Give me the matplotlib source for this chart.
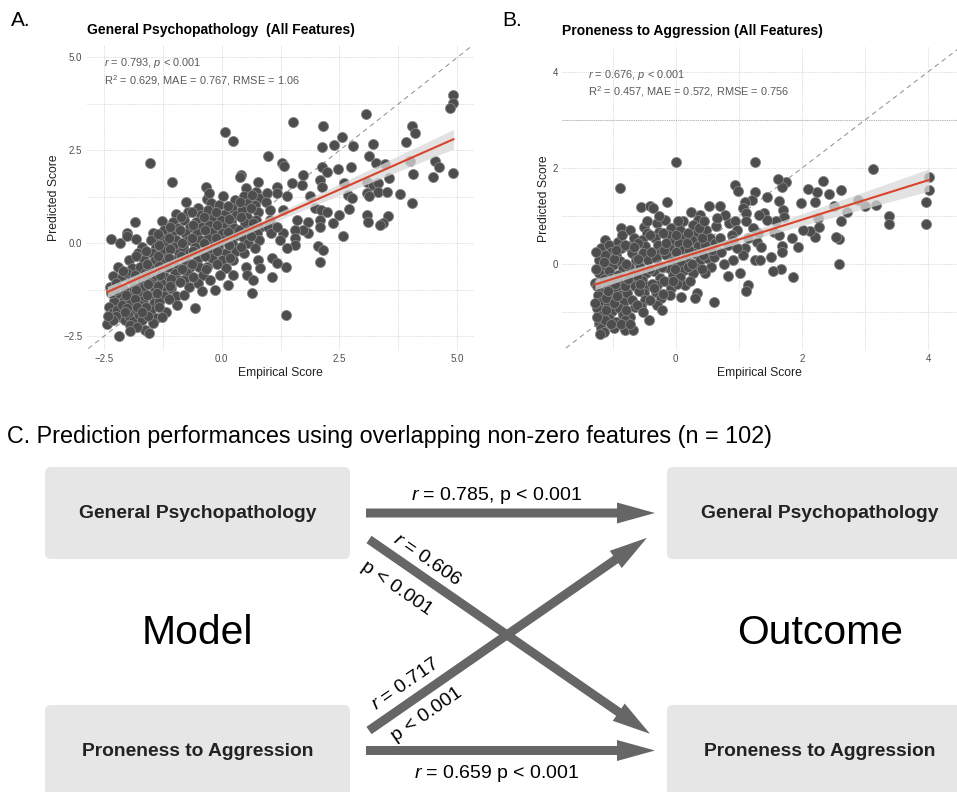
import numpy as np
import matplotlib.pyplot as plt
from matplotlib.patches import FancyBboxPatch, FancyArrow

plt.rcParams['font.family'] = ['Liberation Sans', 'DejaVu Sans']
plt.rcParams['mathtext.fontset'] = 'custom'
plt.rcParams['mathtext.rm'] = 'Liberation Sans'
plt.rcParams['mathtext.it'] = 'Liberation Sans:italic'

# ---- panel A: general psychopathology (empirical, predicted) ----
pts_a = [
    (-2.36, 0.12), (-2.30, -0.88), (-2.38, -1.17), (-2.28, -1.55), (-2.40, -1.70), (-2.33, -1.88), (-2.43, -2.17),
    (-2.15, 0.02), (-2.02, 0.27), (-2.02, 0.20), (-2.20, -0.63), (-2.12, -0.90), (-2.25, -1.08), (-2.17, -1.35),
    (-2.08, -1.52), (-2.22, -1.80), (-2.14, -1.97), (-2.05, -2.06), (-2.19, -2.49),
    (-1.84, 0.58), (-1.82, 0.11), (-1.97, -0.45), (-1.90, -0.67), (-2.00, -0.80), (-1.93, -1.00), (-1.86, -1.17),
    (-1.99, -1.30), (-1.91, -1.43), (-1.95, -1.60), (-1.87, -1.80), (-1.98, -1.93), (-1.89, -2.10), (-1.94, -2.20),
    (-1.70, -0.09), (-1.78, -0.27), (-1.66, -0.45), (-1.74, -0.63), (-1.62, -0.80), (-1.72, -0.99), (-1.65, -1.17),
    (-1.77, -1.35), (-1.68, -1.52), (-1.73, -1.66), (-1.63, -1.80), (-1.76, -1.93), (-1.69, -2.06), (-1.63, -2.33),
    (-1.54, -2.42),
    (-1.52, 2.15), (-1.45, 0.27), (-1.50, 0.09), (-1.40, -0.09), (-1.48, -0.27), (-1.42, -0.45), (-1.55, -0.63),
    (-1.38, -0.76), (-1.47, -0.94), (-1.53, -1.08), (-1.41, -1.26), (-1.49, -1.43), (-1.44, -1.60), (-1.51, -1.80),
    (-1.39, -2.00), (-1.46, -2.15),
    (-1.05, 1.66), (-1.27, 0.60), (-1.22, 0.36), (-1.30, 0.18), (-1.18, 0.00), (-1.26, -0.18), (-1.15, -0.36),
    (-1.24, -0.54), (-1.31, -0.72), (-1.20, -0.90), (-1.28, -1.08), (-1.16, -1.26), (-1.23, -1.43), (-1.33, -1.57),
    (-1.19, -1.84), (-1.26, -1.97),
    (-0.98, 0.80), (-1.03, 0.58), (-0.93, 0.40), (-1.06, 0.27), (-0.96, 0.09), (-1.01, -0.09), (-0.91, -0.27),
    (-1.04, -0.45), (-0.95, -0.63), (-1.00, -0.80), (-0.92, -0.99), (-1.07, -1.21), (-0.97, -1.43), (-0.94, -1.66),
    (-0.76, 1.10), (-0.72, 0.85), (-0.80, 0.63), (-0.68, 0.45), (-0.77, 0.27), (-0.71, 0.09), (-0.82, -0.09),
    (-0.70, -0.27), (-0.78, -0.45), (-0.67, -0.63), (-0.74, -0.80), (-0.81, -0.99), (-0.69, -1.17), (-0.79, -1.39),
    (-0.57, -1.75),
    (-0.33, 1.52), (-0.32, 1.18), (-0.50, 0.94), (-0.45, 0.76), (-0.55, 0.58), (-0.42, 0.45), (-0.52, 0.27),
    (-0.47, 0.09), (-0.56, -0.09), (-0.44, -0.27), (-0.53, -0.45), (-0.48, -0.63), (-0.40, -0.85), (-0.51, -1.08),
    (-0.42, -1.27),
    (-0.28, 1.35), (-0.22, 1.08), (-0.30, 0.90), (-0.19, 0.67), (-0.27, 0.49), (-0.21, 0.31), (-0.29, 0.13),
    (-0.17, -0.04), (-0.25, -0.22), (-0.20, -0.40), (-0.31, -0.63), (-0.24, -0.99), (-0.14, -1.26),
    (0.07, 3.00), (0.25, 2.76), (0.02, 1.26), (-0.05, 1.03), (0.06, 0.80), (-0.02, 0.63), (0.08, 0.45),
    (0.00, 0.27), (0.04, 0.09), (-0.07, -0.09), (0.10, -0.27), (0.01, -0.45), (0.09, -0.67), (-0.03, -0.85),
    (0.13, -1.12),
    (0.28, 1.17), (0.22, 0.94), (0.31, 0.76), (0.19, 0.58), (0.27, 0.40), (0.33, 0.22), (0.21, 0.00),
    (0.30, -0.22), (0.24, -0.45), (0.25, -0.85),
    (0.42, 1.84), (0.39, 1.79), (0.52, 1.48), (0.47, 1.26), (0.56, 1.08), (0.44, 0.90), (0.53, 0.72),
    (0.49, 0.54), (0.58, 0.36), (0.46, 0.18), (0.55, 0.00), (0.48, -0.27), (0.51, -0.63), (0.53, -0.85),
    (0.67, -0.99), (0.65, -1.33),
    (0.78, 1.66), (0.73, 1.39), (0.80, 1.21), (0.70, 1.03), (0.77, 0.85), (0.72, 0.63), (0.81, 0.45),
    (0.74, 0.27), (0.79, 0.09), (0.71, -0.13), (0.76, -0.45), (0.82, -0.67),
    (0.98, 2.35), (0.96, 1.35), (0.93, 1.12), (1.03, 0.90), (1.03, 0.63), (0.99, 0.45), (1.05, 0.27),
    (1.06, -0.40), (1.06, -0.90),
    (-2.10, -0.75), (-2.07, -1.22), (-2.11, -1.65), (-2.04, -1.40),
    (-1.83, -0.35), (-1.85, -0.85), (-1.81, -1.25), (-1.84, -1.50), (-1.80, -1.72),
    (-1.60, -0.20), (-1.58, -0.55), (-1.61, -0.88), (-1.57, -1.10), (-1.59, -1.40), (-1.60, -1.70), (-1.56, -1.95),
    (-1.35, 0.25), (-1.33, -0.05), (-1.36, -0.35), (-1.34, -0.60), (-1.32, -0.85), (-1.35, -1.15), (-1.37, -1.35),
    (-1.33, -1.70),
    (-1.10, 0.45), (-1.12, 0.15), (-1.09, -0.15), (-1.11, -0.40), (-1.13, -0.65), (-1.08, -0.95), (-1.10, -1.15),
    (-1.12, -1.50),
    (-0.86, 0.70), (-0.88, 0.35), (-0.84, 0.00), (-0.87, -0.35), (-0.85, -0.70), (-0.89, -1.05),
    (-0.62, 0.85), (-0.60, 0.50), (-0.63, 0.15), (-0.61, -0.20), (-0.64, -0.55), (-0.60, -0.90),
    (-0.37, 0.70), (-0.35, 0.35), (-0.38, 0.00), (-0.36, -0.35), (-0.34, -0.70),
    (-0.12, 0.85), (-0.10, 0.50), (-0.13, 0.15), (-0.11, -0.20), (-0.09, -0.55),
    (0.14, 1.00), (0.16, 0.65), (0.13, 0.30), (0.15, -0.05), (0.17, -0.40),
    (0.38, 1.10), (0.40, 0.70), (0.37, 0.35), (0.41, -0.10),
    (0.64, 1.30), (0.62, 0.95), (0.66, 0.55), (0.63, 0.20),
    (-2.35, -1.35), (-2.25, -1.95), (-2.00, -1.75), (-1.80, -2.25), (-2.30, -2.05), (-1.95, -2.35),
    (-2.42, -1.95), (-1.70, -1.85), (-2.27, -1.25), (-2.05, -1.85),
    (1.52, 3.26), (2.16, 3.16), (3.06, 3.48), (4.90, 3.99), (4.90, 3.78), (4.85, 3.63), (2.55, 2.86),
    (2.39, 2.65), (2.13, 2.60), (2.78, 2.62), (3.22, 2.67), (4.03, 3.16), (4.10, 2.98), (3.92, 2.72),
    (3.13, 2.35), (1.27, 2.15), (1.33, 2.08), (3.27, 2.15), (3.47, 2.13), (4.00, 2.22), (4.53, 2.22),
    (4.62, 2.04), (4.92, 1.88), (4.07, 1.86), (4.49, 1.78), (3.55, 1.76), (2.46, 1.99), (2.75, 2.06),
    (2.13, 2.06), (2.23, 1.93), (1.73, 1.84), (1.49, 1.61), (1.70, 1.57), (2.09, 1.70), (2.12, 1.52),
    (2.59, 1.61), (3.08, 1.66), (3.21, 1.57), (3.32, 1.61), (3.32, 1.39), (3.50, 1.39), (3.08, 1.35),
    (3.13, 1.26), (3.79, 1.32), (4.03, 1.08), (2.69, 1.30), (2.76, 1.21), (2.71, 0.91), (2.48, 0.76),
    (2.37, 0.56), (3.08, 0.76), (3.10, 0.58), (3.52, 0.74), (3.42, 0.54), (3.37, 0.49), (2.57, 0.20),
    (2.05, -0.07), (2.16, -0.18), (2.09, -0.49), (1.88, 1.26), (1.98, 0.94), (2.10, 0.90), (2.23, 0.83),
    (2.08, 0.63), (2.09, 0.43), (1.84, 0.58), (1.84, 0.27), (1.73, 0.36), (1.59, 0.63), (1.56, 0.36),
    (1.56, 0.13), (1.56, -0.04), (1.38, -0.13), (1.37, -0.63), (1.37, -1.93), (1.17, -0.54), (1.31, 0.27),
    (1.24, 0.09), (1.17, 0.45), (1.31, 0.90), (1.38, 1.26), (1.17, 1.52), (1.17, 1.35),
]

# ---- panel B: proneness to aggression (empirical, predicted) ----
pts_b = [
    (-1.12, 0.51), (-1.22, 0.09), (-1.28, -0.39), (-1.18, 0.33), (-1.15, -0.05), (-1.21, -0.19), (-1.17, -0.50),
    (-1.23, -0.64), (-1.19, -0.78), (-1.25, -0.91), (-1.16, -1.05), (-1.22, -1.22), (-1.18, -1.33), (-1.13, -1.40),
    (-1.05, 0.40), (-1.02, 0.26), (-1.08, 0.12), (-1.00, -0.01), (-1.06, -0.15), (-1.03, -0.29), (-1.09, -0.43),
    (-0.99, -0.57), (-1.04, -0.71), (-1.07, -0.84), (-1.01, -0.98), (-1.06, -1.12), (-0.98, -1.33),
    (-0.88, 1.58), (-0.87, 0.75), (-0.92, 0.47), (-0.86, 0.33), (-0.94, 0.19), (-0.89, 0.06), (-0.83, -0.08),
    (-0.91, -0.22), (-0.85, -0.36), (-0.93, -0.50), (-0.88, -0.64), (-0.82, -0.78), (-0.90, -0.91), (-0.84, -1.05),
    (-0.80, -1.36),
    (-0.72, 0.71), (-0.66, 0.54), (-0.75, 0.37), (-0.69, 0.23), (-0.63, 0.09), (-0.74, -0.05), (-0.68, -0.19),
    (-0.71, -0.33), (-0.65, -0.46), (-0.77, -0.60), (-0.70, -0.74), (-0.64, -0.88), (-0.73, -1.09), (-0.67, -1.36),
    (-0.55, 1.18), (-0.41, 1.20), (-0.36, 1.16), (-0.50, 0.78), (-0.46, 0.64), (-0.54, 0.51), (-0.48, 0.37),
    (-0.52, 0.23), (-0.44, 0.09), (-0.56, -0.05), (-0.47, -0.19), (-0.53, -0.33), (-0.45, -0.46), (-0.51, -0.60),
    (-0.49, -0.74), (-0.55, -0.88), (-0.43, -1.16),
    (-0.30, 0.85), (-0.26, 0.68), (-0.33, 0.54), (-0.28, 0.40), (-0.24, 0.26), (-0.31, 0.12), (-0.27, -0.01),
    (-0.34, -0.15), (-0.25, -0.29), (-0.29, -0.43), (-0.32, -0.57), (-0.23, -0.71), (-0.30, -0.84), (-0.22, -0.95),
    (-0.14, 1.29), (-0.17, 0.92), (-0.08, 0.75), (-0.12, 0.61), (-0.05, 0.47), (-0.10, 0.33), (-0.15, 0.19),
    (-0.06, 0.06), (-0.11, -0.08), (-0.04, -0.22), (-0.13, -0.36), (-0.07, -0.50), (-0.09, -0.64),
    (0.00, 2.13),
    (0.12, 0.89), (0.07, 0.71), (0.14, 0.57), (0.05, 0.44), (0.11, 0.30), (0.16, 0.16), (0.08, 0.02),
    (0.13, -0.12), (0.06, -0.26), (0.15, -0.43), (0.09, -0.67),
    (0.24, 1.09), (0.39, 1.02), (0.36, 0.92), (0.28, 0.82), (0.33, 0.64), (0.26, 0.51), (0.35, 0.37),
    (0.29, 0.23), (0.38, 0.09), (0.31, -0.05), (0.27, -0.19), (0.34, -0.60), (0.30, -0.71),
    (0.52, 1.20), (0.48, 0.71), (0.55, 0.54), (0.47, 0.40), (0.53, 0.26), (0.50, 0.12), (0.56, -0.05),
    (0.46, -0.19),
    (-1.12, 0.20), (-1.14, -0.30), (-1.10, -0.70), (-1.12, -1.15), (-1.11, -0.95),
    (-0.97, 0.10), (-0.96, -0.40), (-0.98, -0.80), (-0.95, -1.20),
    (-0.80, 0.40), (-0.79, 0.00), (-0.81, -0.45), (-0.78, -0.95), (-0.80, -1.15),
    (-0.60, 0.45), (-0.59, 0.10), (-0.61, -0.25), (-0.58, -0.55), (-0.62, -0.85),
    (-0.40, 0.60), (-0.39, 0.25), (-0.41, -0.10), (-0.38, -0.40), (-0.40, -0.75),
    (-0.20, 0.65), (-0.19, 0.30), (-0.21, -0.05), (-0.18, -0.35), (-0.20, -0.62),
    (0.00, 0.60), (0.01, 0.25), (-0.01, -0.10), (0.02, -0.40),
    (0.20, 0.65), (0.21, 0.30), (0.19, -0.05), (0.22, -0.35),
    (0.42, 0.55), (0.43, 0.20), (0.41, -0.10),
    (0.62, 0.45), (0.60, 0.15), (0.64, 0.80),
    (-1.26, 0.25), (-1.27, -0.10), (-1.24, -0.45), (-1.28, -0.80), (-1.25, -1.10), (-1.20, -1.45),
    (-1.14, 0.05), (-1.08, -0.55), (-1.02, -1.25), (-0.95, 0.30), (-0.93, -0.65), (-0.86, -1.25),
    (-0.85, 0.60), (-0.75, -0.30), (-0.72, -1.25), (-0.66, 0.35), (-0.57, -0.40), (-0.52, -1.00),
    (-0.46, 0.90), (-0.35, -0.50), (-0.27, 1.00), (-0.16, 0.45), (-0.05, -0.35), (0.04, 0.90),
    (0.18, 0.45), (0.25, 0.00), (0.37, 0.75), (0.45, 0.90), (0.58, 0.30), (0.70, 0.55), (0.72, 0.25),
    (0.82, 0.40), (0.85, 0.85),
    (1.26, 2.12), (3.13, 1.98), (4.01, 1.82), (4.01, 1.54), (3.97, 1.30), (3.97, 0.84), (3.37, 1.00),
    (3.37, 0.83), (3.17, 1.23), (2.99, 1.21), (2.89, 1.34), (2.71, 1.09), (2.61, 1.54), (2.62, 0.89),
    (2.59, 0.52), (2.53, 0.56), (2.59, 0.00), (2.51, 1.20), (2.43, 1.46), (2.33, 1.73), (2.23, 1.49),
    (2.10, 1.56), (2.20, 1.30), (2.26, 0.96), (2.27, 0.77), (2.20, 0.56), (2.13, 0.69), (2.01, 0.71),
    (1.99, 1.27), (1.94, 0.35), (1.86, -0.26), (1.84, 0.54), (1.75, 1.70), (1.69, 1.61), (1.62, 1.76),
    (1.64, 1.32), (1.70, 1.13), (1.72, 0.99), (1.59, 0.89), (1.55, 0.68), (1.64, 0.61), (1.68, 0.37),
    (1.68, 0.25), (1.67, -0.10), (1.54, -0.13), (1.51, 0.16), (1.44, 1.40), (1.39, 1.06), (1.44, 0.92),
    (1.32, 1.02), (1.30, 0.64), (1.29, 0.47), (1.35, 0.35), (1.25, 0.09), (1.34, 0.09), (1.26, 1.49),
    (1.20, 1.34), (1.09, 1.30), (1.07, 1.16), (1.12, 1.06), (1.12, 0.89), (1.23, 0.75), (1.15, 0.54),
    (1.09, 0.33), (1.07, 0.19), (1.15, -0.44), (1.11, -0.55), (0.94, 1.65), (0.99, 1.53), (0.70, 1.20),
    (0.78, 1.02), (0.65, 0.96), (0.94, 0.89), (0.97, 0.71), (0.89, 0.61), (0.91, 0.51), (0.97, 0.33),
    (0.91, 0.09), (0.83, -0.24), (1.02, -0.19), (0.77, 0.00), (0.61, -0.78),
]

stats_a = [r'$r$ = 0.793, $p$ < 0.001', r'R$^2$ = 0.629, MAE = 0.767, RMSE = 1.06']
stats_b = [r'$r$ = 0.676, $p$ < 0.001', r'R$^2$ = 0.457, MAE = 0.572, RMSE = 0.756']

# ---- panel C ----
box_labels = ['General Psychopathology', 'Proneness to Aggression']
arrow_r = {'gp_gp': '0.785', 'gp_pa': '0.606', 'pa_gp': '0.717', 'pa_pa': '0.659'}

point_fc = '#4d4d4d'
point_ec = '#858585'
line_col = '#d9452b'
grid_col = '#cfcfcf'


def fit_band(x, y, xs):
    n = len(x)
    b, a = np.polyfit(x, y, 1)
    res = y - (a + b * x)
    s = np.sqrt(np.sum(res ** 2) / (n - 2))
    sxx = np.sum((x - x.mean()) ** 2)
    se = s * np.sqrt(1 / n + (xs - x.mean()) ** 2 / sxx)
    return a + b * xs, 1.96 * se


def scatter_panel(ax, pts, lims, major, labels, minor, title, stats, stat_xy):
    pts = np.array(pts)
    x, y = pts[:, 0], pts[:, 1]
    ax.set_xlim(lims[0])
    ax.set_ylim(lims[1])
    for v in list(major) + list(minor):
        ax.axvline(v, color=grid_col, lw=0.6, ls=(0, (1, 1.2)), zorder=0)
        ax.axhline(v, color=grid_col, lw=0.6, ls=(0, (1, 1.2)), zorder=0)
    ax.plot([-10, 10], [-10, 10], color='#8c8c8c', lw=0.7, ls=(0, (5, 4)), zorder=1)
    ax.scatter(x, y, s=52, facecolor=point_fc, edgecolor=point_ec, linewidth=0.6, zorder=2)
    xs = np.linspace(x.min(), x.max(), 100)
    ys, ci = fit_band(x, y, xs)
    ax.fill_between(xs, ys - ci, ys + ci, color='#d9d9d9', alpha=0.75, lw=0, zorder=3)
    ax.plot(xs, ys, color=line_col, lw=1.5, zorder=4)
    ax.set_xticks(major)
    ax.set_xticklabels(labels)
    ax.set_yticks(major)
    ax.set_yticklabels(labels)
    ax.tick_params(length=0, labelsize=7, labelcolor='#4d4d4d', pad=3)
    for sp in ax.spines.values():
        sp.set_visible(False)
    ax.set_xlabel('Empirical Score', fontsize=8.7, color='#222222', labelpad=2)
    ax.set_ylabel('Predicted Score', fontsize=8.7, color='#222222', labelpad=2)
    ax.set_title(title, loc='left', fontsize=10, fontweight='bold', pad=8)
    ax.text(stat_xy[0], stat_xy[1], stats[0], fontsize=7.9, color='#5a5a5a', va='center')
    ax.text(stat_xy[0], stat_xy[2], stats[1], fontsize=7.9, color='#5a5a5a', va='center')


fig = plt.figure(figsize=(9.57, 7.92), dpi=100)

ax_a = fig.add_axes([0.0904, 0.5581, 0.4046, 0.3848])
scatter_panel(ax_a, pts_a, [(-2.87, 5.35), (-2.87, 5.33)],
              [-2.5, 0, 2.5, 5.0], ['\u22122.5', '0.0', '2.5', '5.0'], [-1.25, 1.25, 3.75],
              'General Psychopathology  (All Features)', stats_a, (-2.5, 4.84, 4.39))

ax_b = fig.add_axes([0.5873, 0.5581, 0.4125, 0.3831])
scatter_panel(ax_b, pts_b, [(-1.80, 4.45), (-1.78, 4.52)],
              [0, 2, 4], ['0', '2', '4'], [-1, 1, 3],
              'Proneness to Aggression (All Features)', stats_b, (-1.39, 3.93, 3.58))
ax_b.axhline(3, color='#b8b8b8', lw=0.8, ls=(0, (1, 1)), zorder=0)

fig.text(11 / 957, 1 - 20 / 792, 'A.', fontsize=15, va='center')
fig.text(502 / 957, 1 - 20 / 792, 'B.', fontsize=15, va='center')

# ---- panel C diagram, axes in pixel units ----
axc = fig.add_axes([0, 0, 1, 400 / 792])
axc.set_xlim(0, 957)
axc.set_ylim(792, 392)
axc.axis('off')

axc.text(7, 437, 'C. Prediction performances using overlapping non-zero features (n = 102)',
         fontsize=16.8, va='center', ha='left')

box_fc = '#e6e6e6'
for bx, by in [(45, 467), (667, 467), (45, 705), (667, 705)]:
    axc.add_patch(FancyBboxPatch((bx, by), 310 if bx > 600 else 305, 92 if by < 600 else 100,
                                 boxstyle='round,pad=0,rounding_size=6', fc=box_fc, ec='none',
                                 clip_on=True))
for cx, cy, lab in [(198, 514, box_labels[0]), (820, 514, box_labels[0]),
                    (198, 751, box_labels[1]), (820, 751, box_labels[1])]:
    axc.text(cx, cy, lab, fontsize=13.9, fontweight='bold', ha='center', va='center', color='#222222')
axc.text(197, 633, 'Model', fontsize=29.4, ha='center', va='center')
axc.text(820, 633, 'Outcome', fontsize=29.4, ha='center', va='center')

arrow_col = '#666666'
for (x0, y0, x1, y1) in [(366, 513, 655, 513), (366, 750.5, 655, 750.5),
                         (369, 539.5, 650, 733.8), (369, 730.5, 647, 537.8)]:
    axc.add_patch(FancyArrow(x0, y0, x1 - x0, y1 - y0, width=9, head_width=21, head_length=38,
                             length_includes_head=True, color=arrow_col, lw=0))

fs = 14
axc.text(497, 495, r'$r$ = %s, p < 0.001' % arrow_r['gp_gp'], fontsize=fs, ha='center', va='center')
axc.text(497, 773, r'$r$ = %s p < 0.001' % arrow_r['pa_pa'], fontsize=fs, ha='center', va='center')
axc.text(427, 560, r'$r$ = %s' % arrow_r['gp_pa'], fontsize=fs, ha='center', va='center',
         rotation=-34.7, rotation_mode='anchor')
axc.text(397, 588, 'p < 0.001', fontsize=fs, ha='center', va='center',
         rotation=-34.7, rotation_mode='anchor')
axc.text(406, 684, r'$r$ = %s' % arrow_r['pa_gp'], fontsize=fs, ha='center', va='center',
         rotation=34.7, rotation_mode='anchor')
axc.text(427, 715, 'p < 0.001', fontsize=fs, ha='center', va='center',
         rotation=34.7, rotation_mode='anchor')

fig.savefig('out.png', dpi=100)
